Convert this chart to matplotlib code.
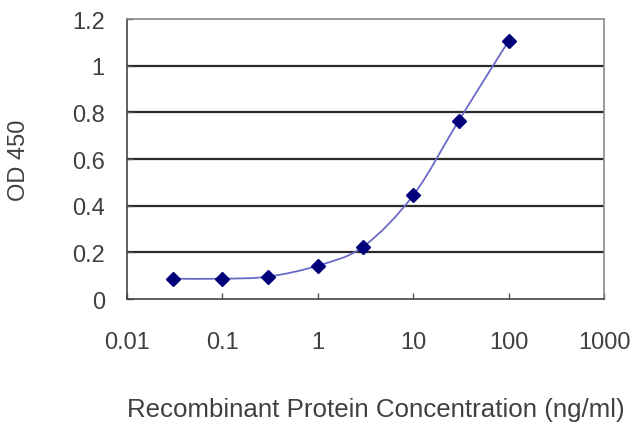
import numpy as np
import matplotlib.pyplot as plt
from matplotlib.path import Path
from matplotlib.patches import PathPatch

plt.rcParams['font.family'] = ['Liberation Sans', 'DejaVu Sans']

conc = [0.03, 0.1, 0.3, 1, 3, 10, 30, 100]
od = [0.087, 0.087, 0.096, 0.143, 0.225, 0.445, 0.765, 1.107]
xticks = [0.01, 0.1, 1, 10, 100, 1000]
xticklabels = ['0.01', '0.1', '1', '10', '100', '1000']
yticks = [0, 0.2, 0.4, 0.6, 0.8, 1, 1.2]
yticklabels = ['0', '0.2', '0.4', '0.6', '0.8', '1', '1.2']

txt = '#404040'

fig = plt.figure(figsize=(6.4, 4.27), dpi=100)
ax = fig.add_axes([0.1984, 0.2974, 0.7456, 0.6556])
ax.set_xscale('log')
ax.set_xlim(0.01, 1000)
ax.set_ylim(0, 1.2)

# grid lines
for v in yticks[1:-1]:
    ax.axhline(v, color='#2a2a2a', lw=1.6, zorder=1)

# smoothed line (Catmull-Rom style bezier, in log-x space)
lx = np.log10(conc)
yy = np.array(od)
t = 1.0 / 6
verts = [(conc[0], od[0])]
codes = [Path.MOVETO]
n = len(lx)
for i in range(n - 1):
    p0 = (lx[max(i - 1, 0)], yy[max(i - 1, 0)])
    p1 = (lx[i], yy[i])
    p2 = (lx[i + 1], yy[i + 1])
    p3 = (lx[min(i + 2, n - 1)], yy[min(i + 2, n - 1)])
    c1 = (p1[0] + (p2[0] - p0[0]) * t, p1[1] + (p2[1] - p0[1]) * t)
    c2 = (p2[0] - (p3[0] - p1[0]) * t, p2[1] - (p3[1] - p1[1]) * t)
    for c in (c1, c2, p2):
        verts.append((10 ** c[0], c[1]))
        codes.append(Path.CURVE4)
ax.add_patch(PathPatch(Path(verts, codes), fill=False, edgecolor='#6a6ac8', lw=1.3, zorder=2))

ax.plot(conc, od, linestyle='none', marker='D', markersize=7, color='#00007a', zorder=3)

ax.set_xticks(xticks)
ax.set_xticklabels(xticklabels)
ax.minorticks_off()
ax.set_yticks(yticks)
ax.set_yticklabels(yticklabels)
ax.tick_params(direction='in', length=4, width=1, color='#555555', labelsize=17,
               labelcolor=txt)
ax.tick_params(axis='x', pad=23)
ax.tick_params(axis='y', pad=16)

for s in ax.spines.values():
    s.set_color('#8a8a8a')
    s.set_linewidth(1.2)
ax.spines['left'].set_color('#444444')
ax.spines['bottom'].set_color('#444444')

ax.set_ylabel('OD 450', fontsize=17, color=txt)
ax.yaxis.set_label_coords(-0.203, 0.5)
ax.set_xlabel('Recombinant Protein Concentration (ng/ml)', fontsize=18.6, color=txt)
ax.xaxis.set_label_coords(0.522, -0.35)

fig.savefig('out.png', dpi=100)
